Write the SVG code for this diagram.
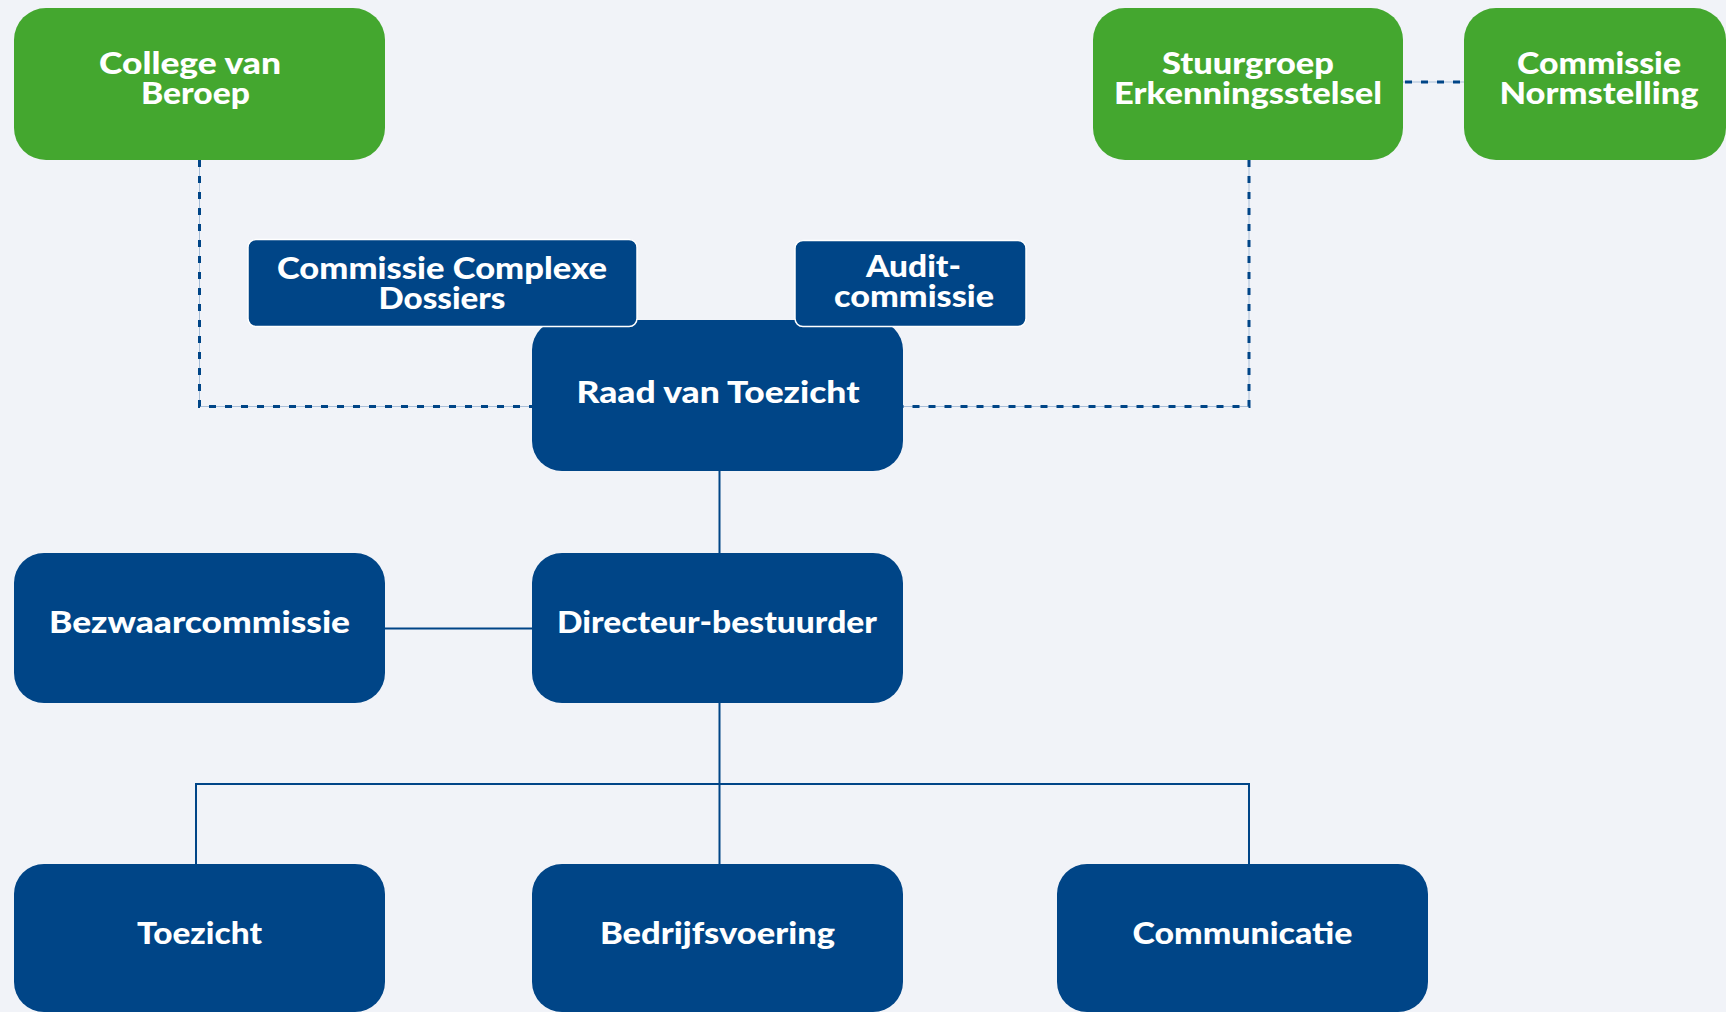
<svg xmlns="http://www.w3.org/2000/svg" width="1726" height="1012" viewBox="0 0 1726 1012">
  <style>
    .bg { fill: #f1f3f8; }
    .green { fill: #44a72f; }
    .blue { fill: #004587; }
    .sub { fill: #004587; stroke: #ffffff; stroke-width: 1.5; }
    .lbl { font-family: Lato, "Open Sans", "Liberation Sans", sans-serif; font-weight: 900; font-size: 31px; fill: #ffffff; text-anchor: middle; }
    .solid { fill: none; stroke: #004587; stroke-width: 2; }
    .guide { fill: none; stroke: #a9bfd9; stroke-width: 1; }
    .dash { fill: none; stroke: #004587; stroke-width: 3; stroke-dasharray: 7 9; }
  </style>
  <rect class="bg" x="0" y="0" width="1726" height="1012"/>

  <g id="connectors">
    <!-- dotted relations to the supervisory board -->
    <path class="guide" d="M199.5 160 V406.5 H532"/>
    <path class="dash" d="M199.5 160 V406.5 H532"/>
    <path class="guide" d="M1249 160 V406.5 H903"/>
    <path class="dash" d="M1249 160 V406.5 H903"/>
    <path class="guide" d="M1403 82 H1464"/>
    <path class="dash" d="M1405 82 H1464"/>
    <!-- hierarchy -->
    <path class="solid" d="M719.5 471 V553"/>
    <path class="solid" stroke-width="3" d="M385 628.5 H533"/>
    <path class="solid" d="M719.5 702 V864"/>
    <path class="solid" stroke-width="2.5" d="M196 864 V784 H1249 V864"/>
  </g>

  <g id="college-van-beroep">
    <rect class="green" x="14" y="8" width="371" height="152" rx="32"/>
    <text class="lbl"><tspan x="190" y="74" textLength="182" lengthAdjust="spacingAndGlyphs">College van</tspan><tspan x="195.5" y="103.5" textLength="109" lengthAdjust="spacingAndGlyphs">Beroep</tspan></text>
  </g>

  <g id="stuurgroep-erkenningsstelsel">
    <rect class="green" x="1093" y="8" width="310" height="152" rx="32"/>
    <text class="lbl"><tspan x="1248" y="74" textLength="172" lengthAdjust="spacingAndGlyphs">Stuurgroep</tspan><tspan x="1248" y="103.5" textLength="268" lengthAdjust="spacingAndGlyphs">Erkenningsstelsel</tspan></text>
  </g>

  <g id="commissie-normstelling">
    <rect class="green" x="1464" y="8" width="262" height="152" rx="32"/>
    <text class="lbl"><tspan x="1599" y="74" textLength="164" lengthAdjust="spacingAndGlyphs">Commissie</tspan><tspan x="1599" y="103.5" textLength="199" lengthAdjust="spacingAndGlyphs">Normstelling</tspan></text>
  </g>

  <g id="raad-van-toezicht">
    <rect class="blue" x="532" y="320" width="371" height="151" rx="30"/>
    <text class="lbl" x="718" y="402.5" textLength="283" lengthAdjust="spacingAndGlyphs">Raad van Toezicht</text>
  </g>

  <g id="commissie-complexe-dossiers">
    <rect class="sub" x="248" y="239.5" width="389" height="87" rx="8"/>
    <text class="lbl"><tspan x="442" y="279" textLength="330" lengthAdjust="spacingAndGlyphs">Commissie Complexe</tspan><tspan x="442" y="309" textLength="127" lengthAdjust="spacingAndGlyphs">Dossiers</tspan></text>
  </g>

  <g id="auditcommissie">
    <rect class="sub" x="795" y="240.5" width="231" height="86" rx="8"/>
    <text class="lbl"><tspan x="913.5" y="277" textLength="95" lengthAdjust="spacingAndGlyphs">Audit-</tspan><tspan x="914" y="306.5" textLength="160" lengthAdjust="spacingAndGlyphs">commissie</tspan></text>
  </g>

  <g id="bezwaarcommissie">
    <rect class="blue" x="14" y="553" width="371" height="150" rx="30"/>
    <text class="lbl" x="199.5" y="632.5" textLength="301" lengthAdjust="spacingAndGlyphs">Bezwaarcommissie</text>
  </g>

  <g id="directeur-bestuurder">
    <rect class="blue" x="532" y="553" width="371" height="150" rx="30"/>
    <text class="lbl" x="717" y="633" textLength="320" lengthAdjust="spacingAndGlyphs">Directeur-bestuurder</text>
  </g>

  <g id="toezicht">
    <rect class="blue" x="14" y="864" width="371" height="148" rx="30"/>
    <text class="lbl" x="199.5" y="944" textLength="125" lengthAdjust="spacingAndGlyphs">Toezicht</text>
  </g>

  <g id="bedrijfsvoering">
    <rect class="blue" x="532" y="864" width="371" height="148" rx="30"/>
    <text class="lbl" x="717.5" y="944" textLength="235" lengthAdjust="spacingAndGlyphs">Bedrijfsvoering</text>
  </g>

  <g id="communicatie">
    <rect class="blue" x="1057" y="864" width="371" height="148" rx="30"/>
    <text class="lbl" x="1242.5" y="944" textLength="220" lengthAdjust="spacingAndGlyphs">Communicatie</text>
  </g>
</svg>
